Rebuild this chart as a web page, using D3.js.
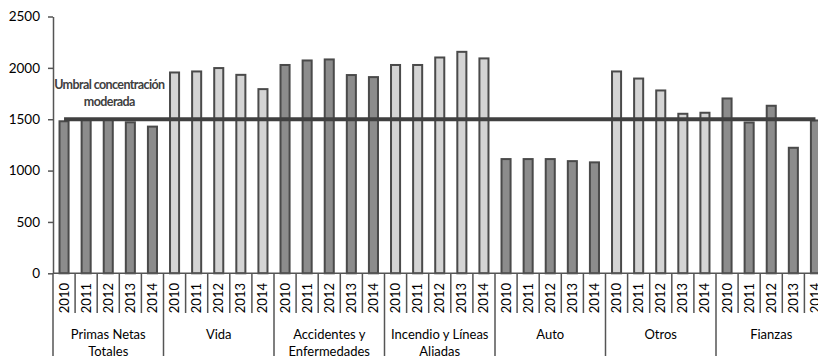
<!DOCTYPE html>
<html>
<head>
<meta charset="utf-8">
<script src="https://cdn.jsdelivr.net/npm/d3@7/dist/d3.min.js"></script>
<style>
  html, body { margin: 0; padding: 0; background: #ffffff; }
  svg { display: block; font-family: Lato, "Open Sans", sans-serif; }
</style>
</head>
<body>
<svg id="chart" width="818" height="356"></svg>
<script>
// Índice de concentración por ramo, 2010–2014
const years = ["2010", "2011", "2012", "2013", "2014"];
const groups = [
  ["Primas Netas", "Totales"],
  ["Vida"],
  ["Accidentes y", "Enfermedades"],
  ["Incendio y Líneas", "Aliadas"],
  ["Auto"],
  ["Otros"],
  ["Fianzas"]
];
const primasNetas = [1480, 1492, 1495, 1470, 1428];
const vida = [1955, 1965, 1998, 1932, 1793];
const accidentes = [2028, 2072, 2082, 1930, 1910];
const incendio = [2028, 2028, 2101, 2156, 2092];
const auto = [1112, 1112, 1112, 1092, 1080];
const otros = [1965, 1896, 1780, 1553, 1563];
const fianzas = [1702, 1468, 1631, 1222, 1488];
const umbral = 1500;
const umbralLabel = ["Umbral concentración", "moderada"];
const yTicks = [0, 500, 1000, 1500, 2000, 2500];

const seriesValues = [primasNetas, vida, accidentes, incendio, auto, otros, fianzas];
const darkGroups = new Set([0, 2, 4, 6]);

const data = [];
seriesValues.forEach((vals, g) => {
  vals.forEach((v, i) => data.push({ key: g + "-" + years[i], group: g, year: years[i], value: v }));
});

const svg = d3.select("#chart");
const left = 53, slot = 22.1;
const x = d3.scaleBand()
  .domain(data.map(d => d.key))
  .range([left, left + slot * data.length])
  .paddingInner(0.59)
  .paddingOuter(0.295);
const y = d3.scaleLinear().domain([0, 2500]).range([273.3, 16.5]);

const axisColor = "#555555";
const barStroke = "#4a4a4a";

// bars
svg.append("g").selectAll("rect").data(data).join("rect")
  .attr("x", d => x(d.key))
  .attr("y", d => y(d.value))
  .attr("width", x.bandwidth())
  .attr("height", d => y(0) - y(d.value))
  .attr("fill", d => darkGroups.has(d.group) ? "#8c8c8c" : "#d4d4d4")
  .attr("stroke", barStroke)
  .attr("stroke-width", 2);

// y axis
const yAxis = svg.append("g")
  .attr("transform", `translate(${left},0)`)
  .call(d3.axisLeft(y).tickValues(yTicks).tickFormat(d3.format("d"))
    .tickSize(5).tickSizeOuter(0).tickPadding(8));
yAxis.select(".domain").attr("stroke", axisColor).attr("stroke-width", 1.5);
yAxis.selectAll(".tick line").attr("stroke", axisColor).attr("stroke-width", 1.5);
yAxis.selectAll(".tick text").attr("fill", "#000").attr("font-size", 13.5).attr("font-family", "Lato, sans-serif");

// x axis baseline
const x0 = y(0);
svg.append("line")
  .attr("x1", left).attr("x2", x.range()[1])
  .attr("y1", x0).attr("y2", x0)
  .attr("stroke", axisColor).attr("stroke-width", 1.5);

// slot separators (years short, groups long)
const step = x.step();
const sepG = svg.append("g");
for (let k = 1; k <= data.length; k++) {
  const sx = left + k * step;
  const isGroup = k % years.length === 0;
  sepG.append("line")
    .attr("x1", sx).attr("x2", sx)
    .attr("y1", x0).attr("y2", isGroup ? 356 : 313)
    .attr("stroke", axisColor).attr("stroke-width", 1.5);
}
// left edge below the axis
sepG.append("line").attr("x1", left).attr("x2", left).attr("y1", x0).attr("y2", 356)
  .attr("stroke", axisColor).attr("stroke-width", 1.5);

// year labels, rotated
svg.append("g").selectAll("text").data(data).join("text")
  .attr("transform", d => `translate(${x(d.key) + x.bandwidth() / 2 + 4.5},283) rotate(-90)`)
  .attr("text-anchor", "end")
  .attr("font-size", 13)
  .attr("fill", "#000")
  .text(d => d.year);

// group labels
svg.append("g").selectAll("text").data(groups).join("text")
  .attr("x", (d, g) => left + (g * years.length + years.length / 2) * step)
  .attr("y", 339)
  .attr("text-anchor", "middle")
  .attr("font-size", 13)
  .attr("fill", "#000")
  .each(function (lines) {
    d3.select(this).selectAll("tspan").data(lines).join("tspan")
      .attr("x", d3.select(this).attr("x"))
      .attr("dy", (l, i) => i === 0 ? 0 : 16.5)
      .text(l => l);
  });

// threshold line
const first = data[0], last = data[data.length - 1];
svg.append("line")
  .attr("x1", x(first.key) + x.bandwidth() / 2)
  .attr("x2", x(last.key) + x.bandwidth() / 2)
  .attr("y1", y(umbral)).attr("y2", y(umbral))
  .attr("stroke", "#404040").attr("stroke-width", 4);

// threshold label
svg.append("text")
  .attr("x", left + 2.55 * step)
  .attr("y", 89)
  .attr("text-anchor", "middle")
  .attr("font-size", 12.5)
  .attr("letter-spacing", -0.6)
  .attr("font-weight", "bold")
  .attr("fill", "#404040")
  .selectAll("tspan").data(umbralLabel).join("tspan")
  .attr("x", left + 2.55 * step)
  .attr("dy", (l, i) => i === 0 ? 0 : 16.5)
  .text(l => l);
</script>
</body>
</html>
